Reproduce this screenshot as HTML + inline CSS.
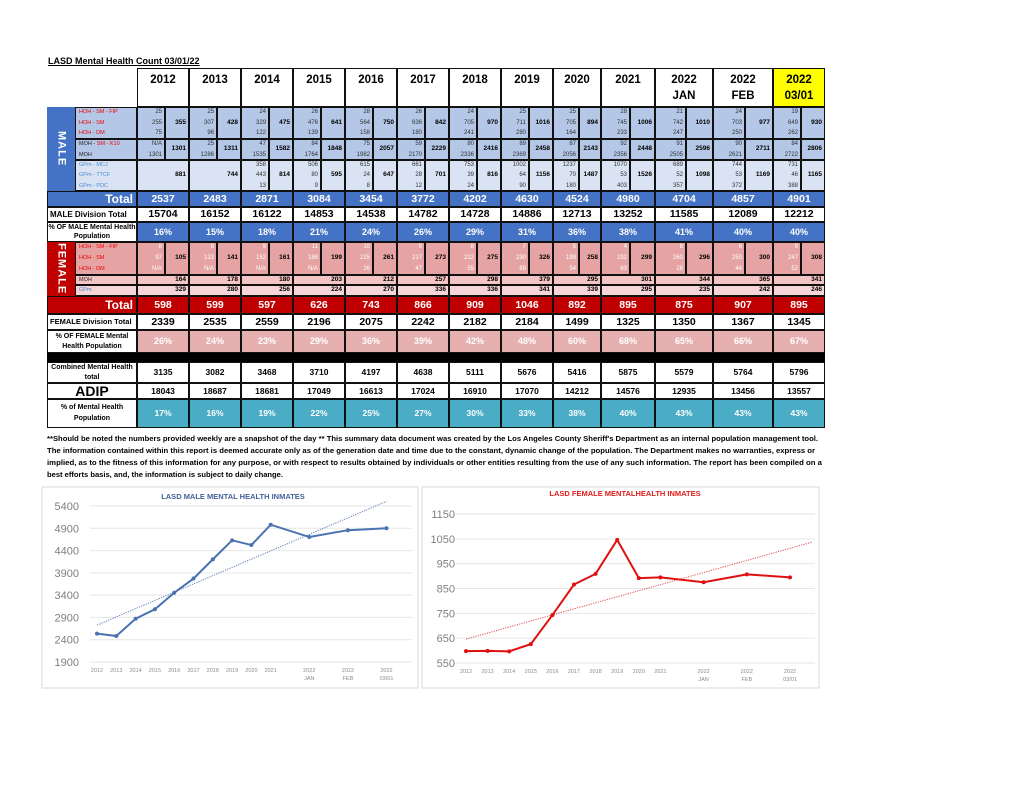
<!DOCTYPE html>
<html><head><meta charset="utf-8"><style>
body{margin:0;width:1024px;height:791px;background:#fff;position:relative;overflow:hidden;font-family:"Liberation Sans",sans-serif}
.c{position:absolute;box-sizing:border-box;display:flex;align-items:center;justify-content:center;overflow:hidden;white-space:nowrap;line-height:1}
svg text{font-family:"Liberation Sans",sans-serif}
</style></head><body>
<div style="position:absolute;left:48px;top:56px;font-size:9px;font-weight:bold;text-decoration:underline">LASD Mental Health Count 03/01/22</div>
<div id="tbl"></div>
<svg style="position:absolute;left:0;top:430px" width="1024" height="52">
<text x="47" y="11" font-size="7.6" font-weight="bold" textLength="771" lengthAdjust="spacingAndGlyphs">**Should be noted the numbers provided weekly are a snapshot of the day ** This summary data document was created by the Los Angeles County Sheriff's Department as an internal population management tool.</text>
<text x="47" y="23" font-size="7.6" font-weight="bold" textLength="768" lengthAdjust="spacingAndGlyphs">The information contained within this report is deemed accurate only as of the generation date and time due to the constant, dynamic change of the population.  The Department makes no warranties, express or</text>
<text x="47" y="35" font-size="7.6" font-weight="bold" textLength="775" lengthAdjust="spacingAndGlyphs">implied, as to the fitness of this information for any purpose, or with respect to results obtained by individuals or other entities resulting from the use of any such information.  The report has been compiled on a</text>
<text x="47" y="47" font-size="7.6" font-weight="bold" textLength="236" lengthAdjust="spacingAndGlyphs">best efforts basis, and, the information is subject to daily change.</text>
</svg>
<svg id="chart-male" style="position:absolute;left:0;top:0" width="1024" height="791"></svg>
<script>
const years=['2012','2013','2014','2015','2016','2017','2018','2019','2020','2021','2022|JAN','2022|FEB','2022|03/01'];
const mHoh=[[25,255,75,355],[25,307,96,428],[24,329,122,475],[26,476,139,641],[28,564,158,750],[26,636,180,842],[24,705,241,970],[25,711,280,1016],[25,705,164,894],[28,745,233,1006],[21,742,247,1010],[24,703,250,977],[19,649,262,930]];
const mMoh=[['N/A',1301,1301],[25,1286,1311],[47,1535,1582],[84,1764,1848],[75,1982,2057],[59,2170,2229],[80,2336,2416],[89,2369,2458],[87,2056,2143],[92,2356,2448],[91,2505,2596],[90,2621,2711],[84,2722,2806]];
const mGpm=[['','','',881],['','','',744],[358,443,13,814],[506,80,9,595],[615,24,8,647],[661,28,12,701],[753,39,24,816],[1002,64,90,1156],[1237,70,180,1487],[1070,53,403,1526],[689,52,357,1098],[744,53,372,1169],[731,46,388,1165]];
const maleTotal=[2537,2483,2871,3084,3454,3772,4202,4630,4524,4980,4704,4857,4901];
const maleDiv=[15704,16152,16122,14853,14538,14782,14728,14886,12713,13252,11585,12089,12212];
const malePct=[16,15,18,21,24,26,29,31,36,38,41,40,40];
const fHoh=[[8,97,'N/A',105],[8,133,'N/A',141],[9,152,'N/A',161],[11,188,'N/A',199],[10,225,26,261],[9,217,47,273],[8,212,55,275],[7,230,89,326],[5,199,54,258],[4,232,63,299],[8,260,28,296],[6,250,44,300],[9,247,52,308]];
const fMoh=[164,178,180,203,212,257,298,379,295,301,344,365,341];
const fGpm=[329,280,256,224,270,336,336,341,339,295,235,242,246];
const femaleTotal=[598,599,597,626,743,866,909,1046,892,895,875,907,895];
const femaleDiv=[2339,2535,2559,2196,2075,2242,2182,2184,1499,1325,1350,1367,1345];
const femalePct=[26,24,23,29,36,39,42,48,60,68,65,66,67];
const combined=[3135,3082,3468,3710,4197,4638,5111,5676,5416,5875,5579,5764,5796];
const adip=[18043,18687,18681,17049,16613,17024,16910,17070,14212,14576,12935,13456,13557];
const totalPct=[17,16,19,22,25,27,30,33,38,40,43,43,43];

const body=document.body;
const colX=[137,189,241,293,345,397,449,501,553,601,655,713,773,825];
function cell(x,y,w,h,html,st,name){
  const el=document.createElement('div');
  el.className='c';
  
  
  el.style.cssText=`left:${x}px;top:${y}px;width:${w}px;height:${h}px;`+(st||'');
  el.innerHTML=html;
  body.appendChild(el);return el;
}
const B='border:1px solid #111;';
cell(137,68,688,39,'', 'border:1.5px solid #111;','header-row');
years.forEach((y,i)=>{const p=y.split('|');
  cell(colX[i],68,colX[i+1]-colX[i],39,p.join('<br>'),B+'align-items:flex-start;padding-top:4px;font-weight:bold;font-size:11.5px;line-height:1.35;text-align:center;'+(i==12?'background:#ffff00;':''),'year-header');});
cell(47,107,28,84,'<span style="writing-mode:vertical-rl;letter-spacing:1px">MALE</span>','background:#4472c4;color:#fff;font-weight:bold;font-size:11px;','male-side-label');
cell(47,242,28,54,'<span style="writing-mode:vertical-rl;letter-spacing:1px">FEMALE</span>','background:#c00000;color:#fff;font-weight:bold;font-size:11px;','female-side-label');
function subl(y,h,lines,bg){cell(75,y,62,h,lines.map(l=>`<div style="color:${l[1]};height:${h/lines.length}px;line-height:${h/lines.length}px">${l[0]}</div>`).join(''),B+'background:'+bg+';flex-direction:column;align-items:flex-start;padding-left:3px;font-size:5.5px;','row-label');}
subl(107,32,[['HOH - SM - FIP','#e00'],['HOH - SM','#e00'],['HOH - DM','#e00']],'#b4c7e7');
subl(139,21,[['MOH - <span style="color:#e00">SM - K10</span>','#222'],['MOH','#222']],'#b4c7e7');
subl(160,31,[['GPm - MCJ','#4a8ad4'],['GPm - TTCF','#4a8ad4'],['GPm - PDC','#4a8ad4']],'#dae3f3');
subl(242,33,[['HOH - SM - FIP','#e00'],['HOH - SM','#e00'],['HOH - DM','#e00']],'#e6a3a3');
subl(275,10,[['MOH','#222']],'#f2c4c4');
subl(285,11,[['GPm','#4a8ad4']],'#f5d5d5');
function split(y,h,arr,bg,col,start){
  arr.forEach((a,k)=>{const i=k+(start||0),x=colX[i],w=colX[i+1]-x,lw=Math.round(w*0.54);
    const n=a.length-1;
    cell(x,y,lw,h,a.slice(0,n).map(v=>`<div style="height:${h/n}px;line-height:${h/n}px">${v}</div>`).join(''),B+'background:'+bg+';flex-direction:column;align-items:flex-end;padding-right:2px;font-size:6px;color:'+col+';','sub-values');
    cell(x+lw,y,w-lw,h,a[n],B+'background:'+bg+';justify-content:flex-end;padding-right:2px;font-size:6.5px;font-weight:bold;','sub-total');});}
split(107,32,mHoh,'#b4c7e7','#333');
split(139,21,mMoh,'#b4c7e7','#333');
mGpm.forEach((a,i)=>{const x=colX[i],w=colX[i+1]-x;
  if(a[0]===''){cell(x,160,w,31,a[3],B+'background:#dae3f3;justify-content:flex-end;padding-right:2px;font-size:6.5px;font-weight:bold;','gpm-total');}
});
split(160,31,mGpm.filter(a=>a[0]!==''),'#dae3f3','#333',2);
function rowOf(y,h,arr,fmt,st,name,lbl,lst){
  if(lbl!==undefined) cell(47,y,90,h,lbl,B+lst,name+'-label');
  arr.forEach((v,i)=>cell(colX[i],y,colX[i+1]-colX[i],h,fmt(v),B+st,name));}
rowOf(191,16,maleTotal,v=>v,'background:#4472c4;color:#fff;font-weight:bold;font-size:10.5px;','male-total');
cell(47,191,90,16,'Total',B+'background:#4472c4;color:#fff;font-weight:bold;font-size:12px;justify-content:flex-end;padding-right:3px;','male-total-label');
rowOf(207,15,maleDiv,v=>v,'font-weight:bold;font-size:10.5px;','male-division-total','MALE Division Total','font-weight:bold;font-size:8px;justify-content:flex-start;padding-left:2px;');
rowOf(222,20,malePct,v=>v+'%','background:#4472c4;color:#fff;font-weight:bold;font-size:9px;','male-pct','% OF MALE Mental Health<br>Population','font-weight:bold;font-size:7px;text-align:center;line-height:1.3;');
split(242,33,fHoh,'#e6a3a3','#fff');
rowOf(275,10,fMoh,v=>v,'background:#f2c4c4;justify-content:flex-end;padding-right:2px;font-size:6.5px;font-weight:bold;','female-moh');
rowOf(285,11,fGpm,v=>v,'background:#f5d5d5;justify-content:flex-end;padding-right:2px;font-size:6.5px;font-weight:bold;','female-gpm');
rowOf(296,18,femaleTotal,v=>v,'background:#c00000;color:#fff;font-weight:bold;font-size:10.5px;','female-total');
cell(47,296,90,18,'Total',B+'background:#c00000;color:#fff;font-weight:bold;font-size:12px;justify-content:flex-end;padding-right:3px;','female-total-label');
rowOf(314,16,femaleDiv,v=>v,'font-weight:bold;font-size:10.5px;','female-division-total','FEMALE Division Total','font-weight:bold;font-size:7.5px;justify-content:flex-start;padding-left:2px;');
rowOf(330,23,femalePct,v=>v+'%','background:#e6b0b0;color:#fff;font-weight:bold;font-size:9px;','female-pct','% OF FEMALE Mental<br>Health Population','font-weight:bold;font-size:7px;text-align:center;line-height:1.35;');
cell(47,353,778,9,'','background:#000;','black-separator');
rowOf(362,21,combined,v=>v,'font-weight:bold;font-size:8.5px;','combined-total','Combined Mental Health<br>total','font-weight:bold;font-size:7px;text-align:center;line-height:1.35;');
rowOf(383,16,adip,v=>v,'font-weight:bold;font-size:8.5px;','adip','ADIP','font-weight:bold;font-size:14px;');
rowOf(399,29,totalPct,v=>v+'%','background:#4bacc6;color:#fff;font-weight:bold;font-size:8.5px;','total-pct','% of Mental Health<br>Population','font-weight:bold;font-size:7px;text-align:center;line-height:1.5;');

const ns='http://www.w3.org/2000/svg';
const svg=document.getElementById('chart-male');
function S(tag,at,parent){const e=document.createElementNS(ns,tag);for(const k in at)e.setAttribute(k,at[k]);(parent||svg).appendChild(e);return e;}
const xIdx=[0,1,2,3,4,5,6,7,8,9,11,13,15];
const maleTicks=[1900,2400,2900,3400,3900,4400,4900,5400];
const femaleTicks=[550,650,750,850,950,1050,1150];
function chart(cfg){
  const g=S('g',{});
  
  
  S('rect',{x:cfg.bx,y:487,width:cfg.bw,height:201,fill:'#fff',stroke:'#d9d9d9'},g);
  const sy=v=>cfg.y0+(v-cfg.t0)*(cfg.y1-cfg.y0)/(cfg.t1-cfg.t0);
  const sx=i=>cfg.x0+i*cfg.dx;
  cfg.ticks.forEach(t=>{S('line',{x1:cfg.gx0,x2:cfg.gx1,y1:sy(t),y2:sy(t),stroke:'#e6e6e6'},g);
    const tx=S('text',{x:cfg.lx,y:sy(t)+4,'font-size':11,fill:'#7f7f7f','text-anchor':'end'},g);tx.textContent=t;
    });
  years.forEach((y,k)=>{const p=y.split('|');p.forEach((s,j)=>{const tx=S('text',{x:sx(xIdx[k]),y:cfg.ty+j*8,'font-size':5.5,fill:'#8c8c8c','text-anchor':'middle'},g);tx.textContent=s;
    });});
  const tt=S('text',{x:cfg.titleX,y:cfg.titleY,'font-size':7.5,'font-weight':'bold',fill:cfg.tcol,'text-anchor':'middle'},g);tt.textContent=cfg.title;
  
  const n=cfg.data.length;let mx=0,my=0;xIdx.forEach((x,k)=>{mx+=x;my+=cfg.data[k];});mx/=n;my/=n;
  let num=0,den=0;xIdx.forEach((x,k)=>{num+=(x-mx)*(cfg.data[k]-my);den+=(x-mx)*(x-mx);});
  const b=num/den,a=my-b*mx;
  const tl=S('line',{x1:sx(0),y1:sy(a),x2:sx(cfg.trendEnd),y2:sy(a+b*cfg.trendEnd),stroke:cfg.trendCol,'stroke-width':1,'stroke-dasharray':'1.2,1.2'},g);
  
  const pts=cfg.data.map((v,k)=>sx(xIdx[k])+','+sy(v)).join(' ');
  const pl=S('polyline',{points:pts,fill:'none',stroke:cfg.col,'stroke-width':cfg.sw},g);
  
  cfg.data.forEach((v,k)=>{const c=S('circle',{cx:sx(xIdx[k]),cy:sy(v),r:2,fill:cfg.col},g);
    });
}
chart({name:'male-mental-health-chart',bx:42,bw:376,x0:97,dx:19.3,y0:662,y1:506,t0:1900,t1:5400,ticks:maleTicks,gx0:90,gx1:412,lx:79,ty:672,titleX:233,titleY:499,title:'LASD MALE MENTAL HEALTH INMATES',tcol:'#44619a',data:maleTotal,col:'#4a72b0',trendCol:'#5b7fb5',trendEnd:15,sw:2});
chart({name:'female-mental-health-chart',bx:422,bw:397,x0:466,dx:21.6,y0:663,y1:514,t0:550,t1:1150,ticks:femaleTicks,gx0:455,gx1:815,lx:455,ty:673,titleX:625,titleY:496,title:'LASD FEMALE MENTALHEALTH INMATES',tcol:'#e01b1b',data:femaleTotal,col:'#e01010',trendCol:'#e05050',trendEnd:16,sw:2});
</script>
</body></html>
